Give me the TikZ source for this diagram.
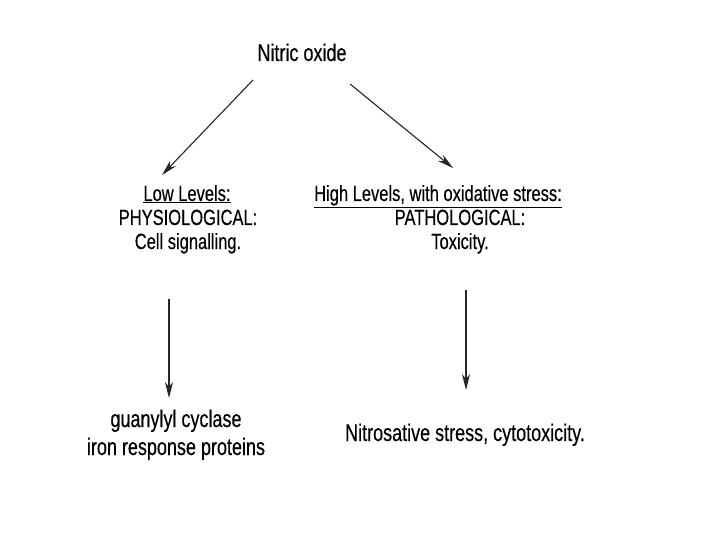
\documentclass[tikz,border=0pt]{standalone}
\usepackage{fontspec}
\setmainfont[FakeStretch=0.75,FakeBold=0.35]{Liberation Sans}
\usetikzlibrary{arrows.meta}
\begin{document}
\begin{tikzpicture}[x=1pt,y=-1pt,
  big/.style={anchor=base,inner sep=0pt,font=\fontsize{24}{28}\selectfont},
  mid/.style={anchor=base,inner sep=0pt,font=\fontsize{22}{26}\selectfont},
  arr/.style={line width=1.1pt,draw=black!85,-{Stealth[length=16pt,width=8pt,inset=5pt]}}]
\useasboundingbox[fill=white] (0,0) rectangle (720,540);
\node[big] (no) at (302,61) {Nitric oxide};
\node[mid] (low) at (187,201) {\underline{Low Levels:}};
\node[mid] (phys) at (188,225) {PHYSIOLOGICAL:};
\node[mid] (cell) at (188,249) {Cell signalling.};
\node[mid] (high) at (438,201) {\underline{High Levels, with oxidative stress:}};
\node[mid] (path) at (460,225) {PATHOLOGICAL:};
\node[mid] (tox) at (460,249) {Toxicity.};
\node[big] (guan) at (176,427) {guanylyl cyclase};
\node[big] (iron) at (176,455) {iron response proteins};
\node[big] (nitro) at (465,441) {Nitrosative stress, cytotoxicity.};
\coordinate (l1s) at (253,80);
\coordinate (l1e) at (162,175);
\coordinate (r1s) at (350,84);
\coordinate (r1e) at (453,168);
\coordinate (l2s) at (169,299);
\coordinate (l2e) at (169,398);
\coordinate (r2s) at (466,290);
\coordinate (r2e) at (466,390);
\draw[arr] (l1s) -- (l1e);
\draw[arr] (r1s) -- (r1e);
\draw[arr] (l2s) -- (l2e);
\draw[arr] (r2s) -- (r2e);
\end{tikzpicture}
\end{document}
